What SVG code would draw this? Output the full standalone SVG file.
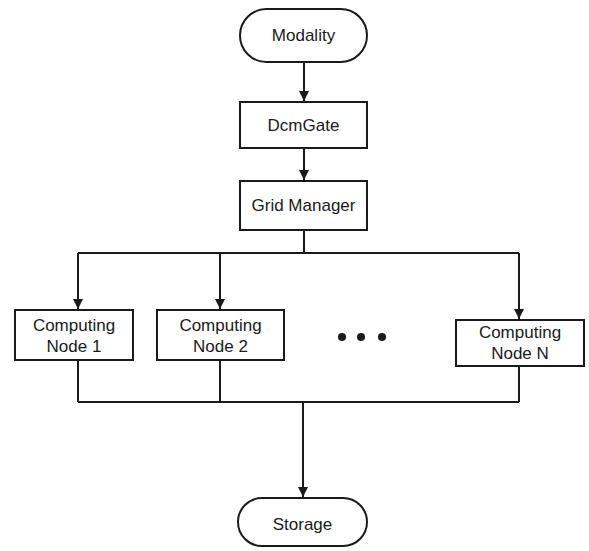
<svg xmlns="http://www.w3.org/2000/svg" width="589" height="551" viewBox="0 0 589 551">
<style>
.box{fill:#fff;stroke:#1a1a1a;stroke-width:2}
.t{font-family:"Liberation Sans",Arial,sans-serif;font-size:17px;fill:#1a1a1a;text-anchor:middle}
.c{fill:none;stroke:#1a1a1a;stroke-width:2}
</style>
<defs>
<marker id="ah" markerWidth="10" markerHeight="12" refX="10" refY="5" orient="auto" markerUnits="userSpaceOnUse">
<path d="M0,0 L10,5 L0,10 Z" fill="#1a1a1a"/>
</marker>
</defs>
<rect width="589" height="551" fill="#fff"/>
<g id="connectors">
<path class="c" d="M304,62 V101" marker-end="url(#ah)"/>
<path class="c" d="M304,148 V180" marker-end="url(#ah)"/>
<path class="c" d="M304,230 V253"/>
<path class="c" d="M78,253 H519"/>
<path class="c" d="M78,253 V309" marker-end="url(#ah)"/>
<path class="c" d="M220,253 V309" marker-end="url(#ah)"/>
<path class="c" d="M519,253 V319" marker-end="url(#ah)"/>
<path class="c" d="M78,360 V402"/>
<path class="c" d="M220,360 V402"/>
<path class="c" d="M519,366 V402"/>
<path class="c" d="M78,402 H519"/>
<path class="c" d="M303,402 V497" marker-end="url(#ah)"/>
</g>
<g id="modality">
<rect class="box" x="240" y="9" width="127" height="53" rx="26.5"/>
<text class="t" x="303.5" y="41">Modality</text>
</g>
<g id="dcmgate">
<rect class="box" x="240" y="102" width="127" height="46"/>
<text class="t" x="303.5" y="131">DcmGate</text>
</g>
<g id="gridmanager">
<rect class="box" x="240" y="181" width="127" height="49"/>
<text class="t" x="303.5" y="211">Grid Manager</text>
</g>
<g id="node1">
<rect class="box" x="15" y="310" width="118" height="50"/>
<text class="t" x="74" y="331">Computing</text>
<text class="t" x="74" y="352">Node 1</text>
</g>
<g id="node2">
<rect class="box" x="157" y="310" width="127" height="50"/>
<text class="t" x="220.5" y="331">Computing</text>
<text class="t" x="220.5" y="352">Node 2</text>
</g>
<g id="ellipsis">
<circle cx="342" cy="337" r="4" fill="#1a1a1a"/>
<circle cx="361" cy="337" r="4" fill="#1a1a1a"/>
<circle cx="382" cy="337" r="4" fill="#1a1a1a"/>
</g>
<g id="nodeN">
<rect class="box" x="456" y="320" width="128" height="46"/>
<text class="t" x="520" y="338">Computing</text>
<text class="t" x="520" y="359">Node N</text>
</g>
<g id="storage">
<rect class="box" x="238" y="498" width="129" height="48" rx="24"/>
<text class="t" x="302.5" y="530">Storage</text>
</g>
</svg>
